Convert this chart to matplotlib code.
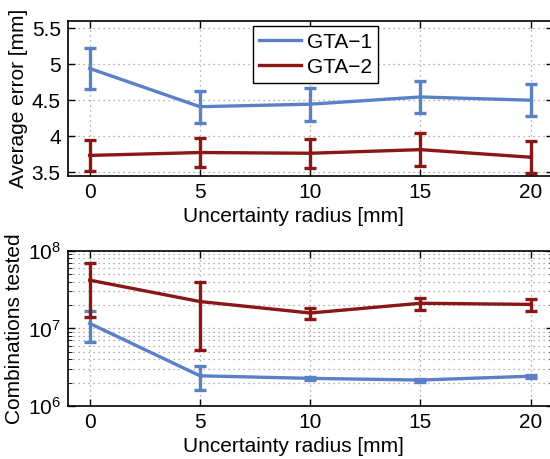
import numpy as np
import matplotlib
matplotlib.use("Agg")
import matplotlib.pyplot as plt
from matplotlib.ticker import LogLocator, FixedLocator
from matplotlib.lines import Line2D

plt.rcParams['font.family'] = ['Liberation Sans', 'DejaVu Sans']
plt.rcParams['font.size'] = 15
plt.rcParams['mathtext.fontset'] = 'custom'
plt.rcParams['mathtext.rm'] = 'Liberation Sans'

radius = [0, 5, 10, 15, 20]
err_gta1 = [4.94, 4.41, 4.445, 4.545, 4.50]
err_gta1_sd = [0.28, 0.22, 0.23, 0.225, 0.225]
err_gta2 = [3.735, 3.775, 3.765, 3.815, 3.71]
err_gta2_sd = [0.21, 0.20, 0.20, 0.225, 0.22]

comb_gta1 = [1.16e7, 2.45e6, 2.27e6, 2.16e6, 2.42e6]
comb_gta1_sd = [5.0e6, 8.5e5, 1.0e5, 1.0e5, 1.0e5]
comb_gta2 = [4.19e7, 2.22e7, 1.58e7, 2.11e7, 2.04e7]
comb_gta2_sd = [2.8e7, 1.7e7, 2.7e6, 3.7e6, 3.8e6]

blue = '#5a80c6'
red = '#8a1616'

fig = plt.figure(figsize=(5.5, 4.59), dpi=100)
ax1 = fig.add_axes([0.123, 0.6166, 0.882, 0.338])
ax2 = fig.add_axes([0.123, 0.1155, 0.882, 0.338])

kw = dict(lw=2.4, elinewidth=2.4, capsize=4, capthick=2.4)
ax1.errorbar(radius, err_gta1, yerr=err_gta1_sd, color=blue, **kw)
ax1.errorbar(radius, err_gta2, yerr=err_gta2_sd, color=red, **kw)
ax1.set_ylim(3.45, 5.6)
ax1.set_yticks([3.5, 4, 4.5, 5, 5.5])
ax1.set_yticklabels(['3.5', '4', '4.5', '5', '5.5'])
ax1.set_ylabel('Average error [mm]', labelpad=3)

ax2.errorbar(radius, comb_gta1, yerr=comb_gta1_sd, color=blue, **kw)
ax2.errorbar(radius, comb_gta2, yerr=comb_gta2_sd, color=red, **kw)
ax2.set_yscale('log')
ax2.set_ylim(1e6, 1e8)
ax2.yaxis.set_major_locator(FixedLocator([1e6, 1e7, 1e8]))
ax2.yaxis.set_minor_locator(LogLocator(base=10, subs=np.arange(2, 10)))
ax2.set_ylabel('Combinations tested', labelpad=3)

for ax in (ax1, ax2):
    ax.set_xlim(-1, 21)
    ax.set_xticks(radius)
    ax.set_xlabel('Uncertainty radius [mm]', labelpad=0)
    ax.xaxis.set_label_coords(0.466, -0.2)
    ax.tick_params(direction='in', top=True, right=True, length=5, width=1, pad=5)
    ax.tick_params(which='minor', direction='in', top=True, right=True, length=3)
    ax.grid(True, which='major', color='#999999', ls=(0, (1, 3)), lw=0.9)
    for s in ax.spines.values():
        s.set_linewidth(1.2)

ax2.grid(True, which='minor', axis='y', color='#999999', ls=(0, (1, 3)), lw=0.9)
ax2.tick_params(axis='y', which='minor', labelleft=False)

handles = [Line2D([], [], color=blue, lw=2.4), Line2D([], [], color=red, lw=2.4)]
leg = ax1.legend(handles, ['GTA\u22121', 'GTA\u22122'], loc='upper left',
                 bbox_to_anchor=(0.382, 0.965), fancybox=False,
                 edgecolor='black', framealpha=1, handlelength=2.0,
                 borderpad=0.3, labelspacing=0.3, handletextpad=0.3,
                 borderaxespad=0)
leg.get_frame().set_linewidth(1.0)

fig.savefig('out.png', dpi=100)
